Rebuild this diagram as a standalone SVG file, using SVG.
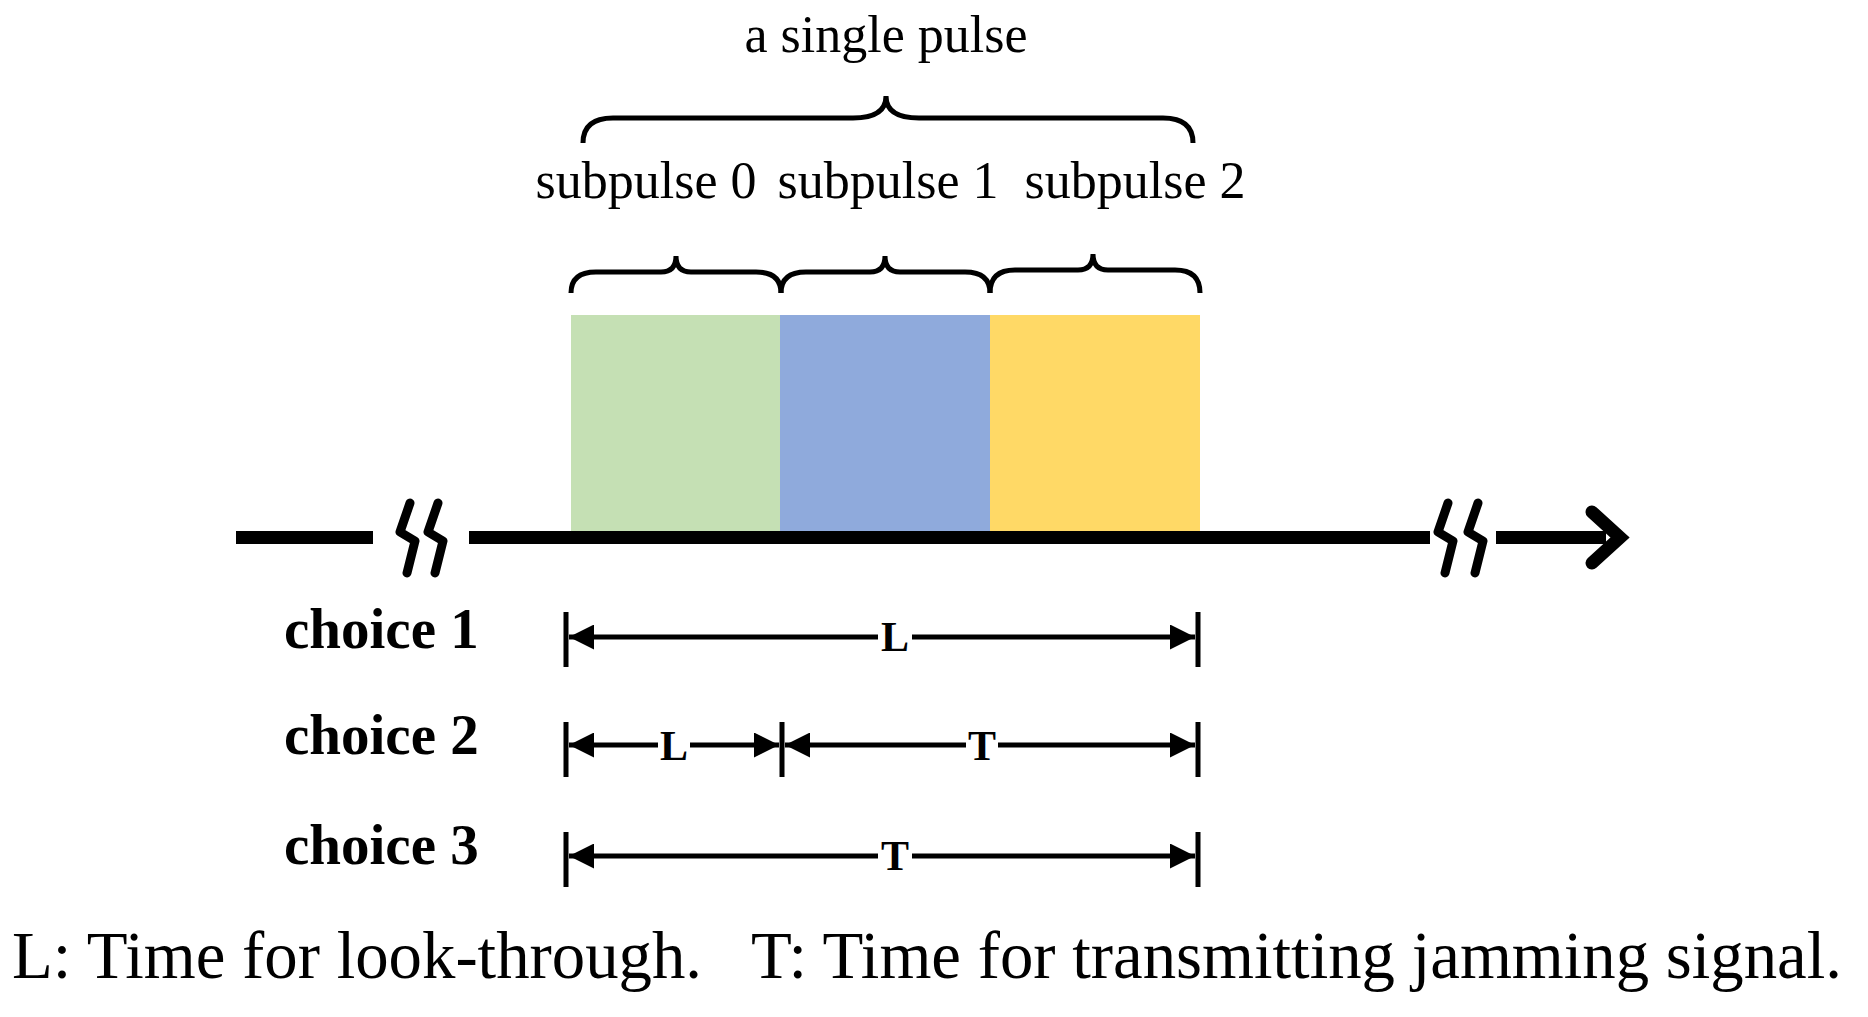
<svg xmlns="http://www.w3.org/2000/svg" width="1868" height="1017" viewBox="0 0 1868 1017">
<style>
.t{font-family:"Liberation Serif","Times New Roman",serif;fill:#000}
.br{fill:none;stroke:#000;stroke-width:5;stroke-linecap:butt}
.dim{stroke:#000;stroke-width:5;fill:none}
.bk{fill:none;stroke:#000;stroke-width:9;stroke-linejoin:round;stroke-linecap:round}
</style>
<defs>
<marker id="ah" viewBox="0 0 10 10" refX="10" refY="5" markerWidth="6" markerHeight="5" markerUnits="strokeWidth" orient="auto-start-reverse"><path d="M0,0 L10,5 L0,10 Z" fill="#000"/></marker>
</defs>
<rect width="1868" height="1017" fill="#fff"/>
<g id="boxes">
<rect x="571" y="315" width="210" height="218" fill="#c5e0b4"/>
<rect x="780" y="315" width="210" height="218" fill="#8faadc"/>
<rect x="990" y="315" width="210" height="218" fill="#ffd966"/>
</g>
<g id="axis">
<rect x="236" y="531" width="137" height="13"/>
<rect x="469" y="531" width="961" height="13"/>
<rect x="1496" y="531" width="110" height="13"/>
<path d="M1592,512 L1620,537.5 L1592,563" fill="none" stroke="#000" stroke-width="13" stroke-linecap="round" stroke-linejoin="miter"/>
<g class="bk"><path d="M410,503 L400,532 L415,541 L407,573"/><path d="M438,503 L428,532 L443,541 L435,573"/></g>
<g class="bk"><path d="M1448,503 L1438,532 L1453,541 L1445,573"/><path d="M1478,503 L1468,532 L1483,541 L1475,573"/></g>
</g>
<g id="braces">
<path class="br" d="M571,293 Q571,272 596,272 L661,272 Q676,272 676,256 Q676,272 691,272 L756,272 Q781,272 781,293"/>
<path class="br" d="M781,293 Q781,272 806,272 L870,272 Q885,272 885,256 Q885,272 900,272 L965,272 Q990,272 990,293"/>
<path class="br" d="M990,293 Q990,270 1015,270 L1078,270 Q1093,270 1093,254 Q1093,270 1108,270 L1175,270 Q1200,270 1200,293"/>
<path class="br" d="M583,143 Q583,118 613,118 L853,118 Q886,118 886,96 Q886,118 919,118 L1163,118 Q1193,118 1193,143"/>
</g>
<g id="labels" class="t" font-size="52" text-anchor="middle">
<text x="886" y="52">a single pulse</text>
<text x="646" y="198">subpulse 0</text>
<text x="888" y="198">subpulse 1</text>
<text x="1135" y="198">subpulse 2</text>
</g>
<g id="choices" class="t" font-size="57" font-weight="bold">
<text x="284" y="648">choice 1</text>
<text x="284" y="754">choice 2</text>
<text x="284" y="864">choice 3</text>
</g>
<g id="connectors">
<g class="dim">
<path d="M566,612 V667 M1198,612 V667 M566,722 V777 M782,722 V777 M1198,722 V777 M566,832 V887 M1198,832 V887"/>
<path d="M878,637 H569" marker-end="url(#ah)"/><path d="M912,637 H1195" marker-end="url(#ah)"/>
<path d="M658,745 H569" marker-end="url(#ah)"/><path d="M690,745 H779" marker-end="url(#ah)"/>
<path d="M966,745 H785" marker-end="url(#ah)"/><path d="M998,745 H1195" marker-end="url(#ah)"/>
<path d="M878,856 H569" marker-end="url(#ah)"/><path d="M912,856 H1195" marker-end="url(#ah)"/>
</g>
<g class="t" font-size="42" font-weight="bold" text-anchor="middle">
<text x="895" y="651">L</text>
<text x="674" y="760">L</text>
<text x="982" y="760">T</text>
<text x="895" y="870">T</text>
</g>
</g>
<text id="legend" class="t" x="12" y="978" font-size="68" textLength="1830" lengthAdjust="spacingAndGlyphs" xml:space="preserve">L: Time for look-through.   T: Time for transmitting jamming signal.</text>
</svg>
